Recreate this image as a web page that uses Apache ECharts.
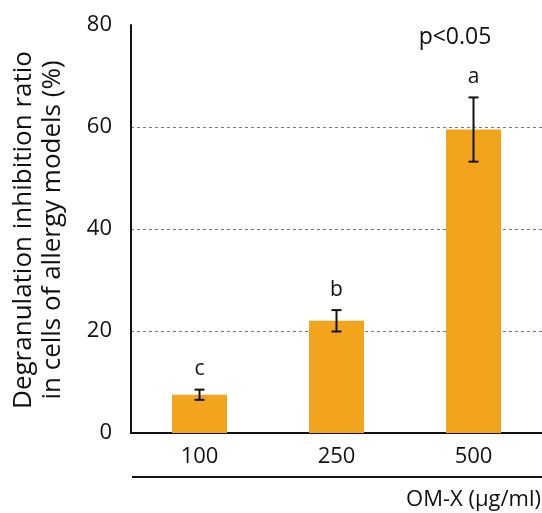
<!DOCTYPE html>
<html><head><meta charset="utf-8">
<script src="https://cdn.jsdelivr.net/npm/echarts@6/dist/echarts.min.js"></script>
<style>html,body{margin:0;padding:0;background:#fff}#c{width:542px;height:513px}</style>
</head><body><div id="c"></div>
<script>
const categories = ['100', '250', '500'];
const values = [7.5, 22.0, 59.5];
const errors = [1.0, 2.1, 6.3];
const letters = ['c', 'b', 'a'];
const yTicks = [0, 20, 40, 60, 80];

const chart = echarts.init(document.getElementById('c'));
const font = 'Open Sans, DejaVu Sans, sans-serif';
chart.setOption({
  animation: false,
  grid: { left: 131, right: 0, top: 25, bottom: 80 },
  xAxis: {
    type: 'category', data: categories,
    axisLine: { lineStyle: { color: '#111', width: 2 } },
    axisTick: { show: false },
    axisLabel: { color: '#111', fontSize: 22, margin: 13, fontFamily: font }
  },
  yAxis: {
    type: 'value', min: 0, max: 80, interval: 20,
    axisLine: { show: true, lineStyle: { color: '#111', width: 2 } },
    axisTick: { show: false },
    axisLabel: { color: '#111', fontSize: 22, margin: 19, fontFamily: font,
      formatter: v => yTicks.includes(v) ? String(v) : '' },
    splitLine: { show: true, showMinLine: false, showMaxLine: false,
      lineStyle: { color: '#777', type: [3, 3], width: 1 } }
  },
  series: [
    { type: 'bar', data: values, barWidth: 55, itemStyle: { color: '#F2A51C' } },
    { type: 'custom', data: values.map((v, i) => [i, v - errors[i], v + errors[i]]),
      renderItem: function (params, api) {
        const lo = api.coord([api.value(0), api.value(1)]);
        const hi = api.coord([api.value(0), api.value(2)]);
        const w = 5;
        const st = { stroke: '#111', lineWidth: 2 };
        return { type: 'group', children: [
          { type: 'line', shape: { x1: hi[0], y1: hi[1], x2: lo[0], y2: lo[1] }, style: st },
          { type: 'line', shape: { x1: hi[0] - w, y1: hi[1], x2: hi[0] + w, y2: hi[1] }, style: st },
          { type: 'line', shape: { x1: lo[0] - w, y1: lo[1], x2: lo[0] + w, y2: lo[1] }, style: st },
          { type: 'text', x: hi[0], y: hi[1] - 10, style: { text: letters[params.dataIndex], fill: '#111', fontSize: 21, fontFamily: font, align: 'center', verticalAlign: 'bottom' } }
        ]};
      }, z: 5 }
  ],
  graphic: [
    { type: 'text', position: [24, 230], rotation: Math.PI / 2, style: { text: 'Degranulation inhibition ratio', fill: '#111', fontSize: 26, fontFamily: font, align: 'center', verticalAlign: 'middle' } },
    { type: 'text', position: [53, 230], rotation: Math.PI / 2, style: { text: 'in cells of allergy models (%)', fill: '#111', fontSize: 26, fontFamily: font, align: 'center', verticalAlign: 'middle' } },
    { type: 'text', position: [455, 37], style: { text: 'p<0.05', fill: '#111', fontSize: 23, fontFamily: font, align: 'center', verticalAlign: 'middle' } },
    { type: 'line', shape: { x1: 132, y1: 477, x2: 542, y2: 477 }, style: { stroke: '#111', lineWidth: 2 } },
    { type: 'text', position: [541, 500], style: { text: 'OM-X (μg/ml)', fill: '#111', fontSize: 22, fontFamily: font, align: 'right', verticalAlign: 'middle' } }
  ]
});
</script></body></html>
